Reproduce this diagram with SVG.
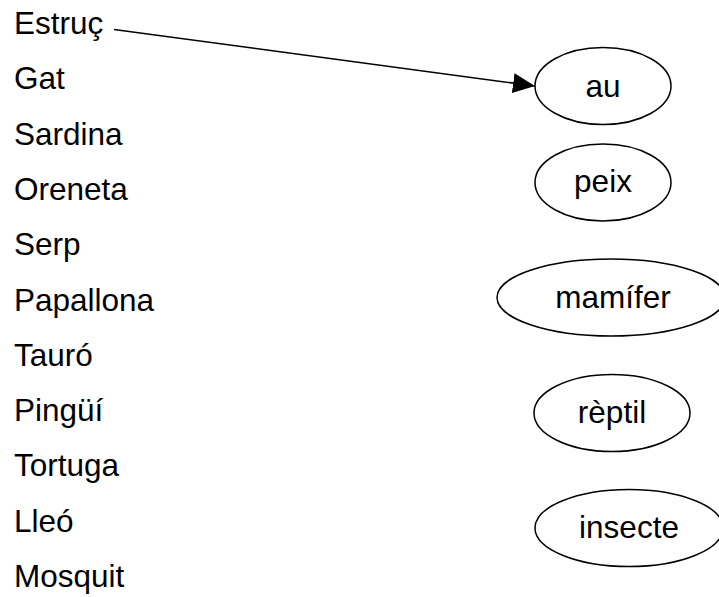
<svg xmlns="http://www.w3.org/2000/svg" width="719" height="597" viewBox="0 0 719 597">
<style>
text{font-family:"Liberation Sans",Arial,sans-serif;font-size:31.5px;fill:#000}
.lbl{text-anchor:middle}
ellipse{fill:#fff;stroke:#000;stroke-width:1.5}
.conn{stroke:#000;stroke-width:1.5;fill:none}
</style>
<defs>
<marker id="arr" markerUnits="userSpaceOnUse" markerWidth="24" markerHeight="22" refX="22" refY="10" orient="auto">
<path d="M0,0 L22,10 L0,20 Z" fill="#000"/>
</marker>
</defs>
<g id="Estruc"><text x="14" y="34">Estruç</text></g>
<g id="Gat"><text x="14" y="89.3">Gat</text></g>
<g id="Sardina"><text x="14" y="144.6">Sardina</text></g>
<g id="Oreneta"><text x="14" y="199.9">Oreneta</text></g>
<g id="Serp"><text x="14" y="255.2">Serp</text></g>
<g id="Papallona"><text x="14" y="310.5">Papallona</text></g>
<g id="Tauro"><text x="14" y="365.8">Tauró</text></g>
<g id="Pingui"><text x="14" y="421.1">Pingüí</text></g>
<g id="Tortuga"><text x="14" y="476.4">Tortuga</text></g>
<g id="Lleo"><text x="14" y="531.7">Lleó</text></g>
<g id="Mosquit"><text x="14" y="587">Mosquit</text></g>
<g id="au"><ellipse cx="603" cy="86" rx="68" ry="38.5"/><text class="lbl" x="603" y="97">au</text></g>
<g id="peix"><ellipse cx="603" cy="182.5" rx="68" ry="38.5"/><text class="lbl" x="603" y="192">peix</text></g>
<g id="mamifer"><ellipse cx="611" cy="297.5" rx="114" ry="38.5"/><text class="lbl" x="613" y="308">mamífer</text></g>
<g id="reptil"><ellipse cx="612" cy="413" rx="78" ry="38.5"/><text class="lbl" x="612" y="423">rèptil</text></g>
<g id="insecte"><ellipse cx="629" cy="528" rx="94" ry="38.5"/><text class="lbl" x="629" y="538">insecte</text></g>
<g id="connectors"><line class="conn" x1="114" y1="29.5" x2="535" y2="86" marker-end="url(#arr)"/></g>
</svg>
